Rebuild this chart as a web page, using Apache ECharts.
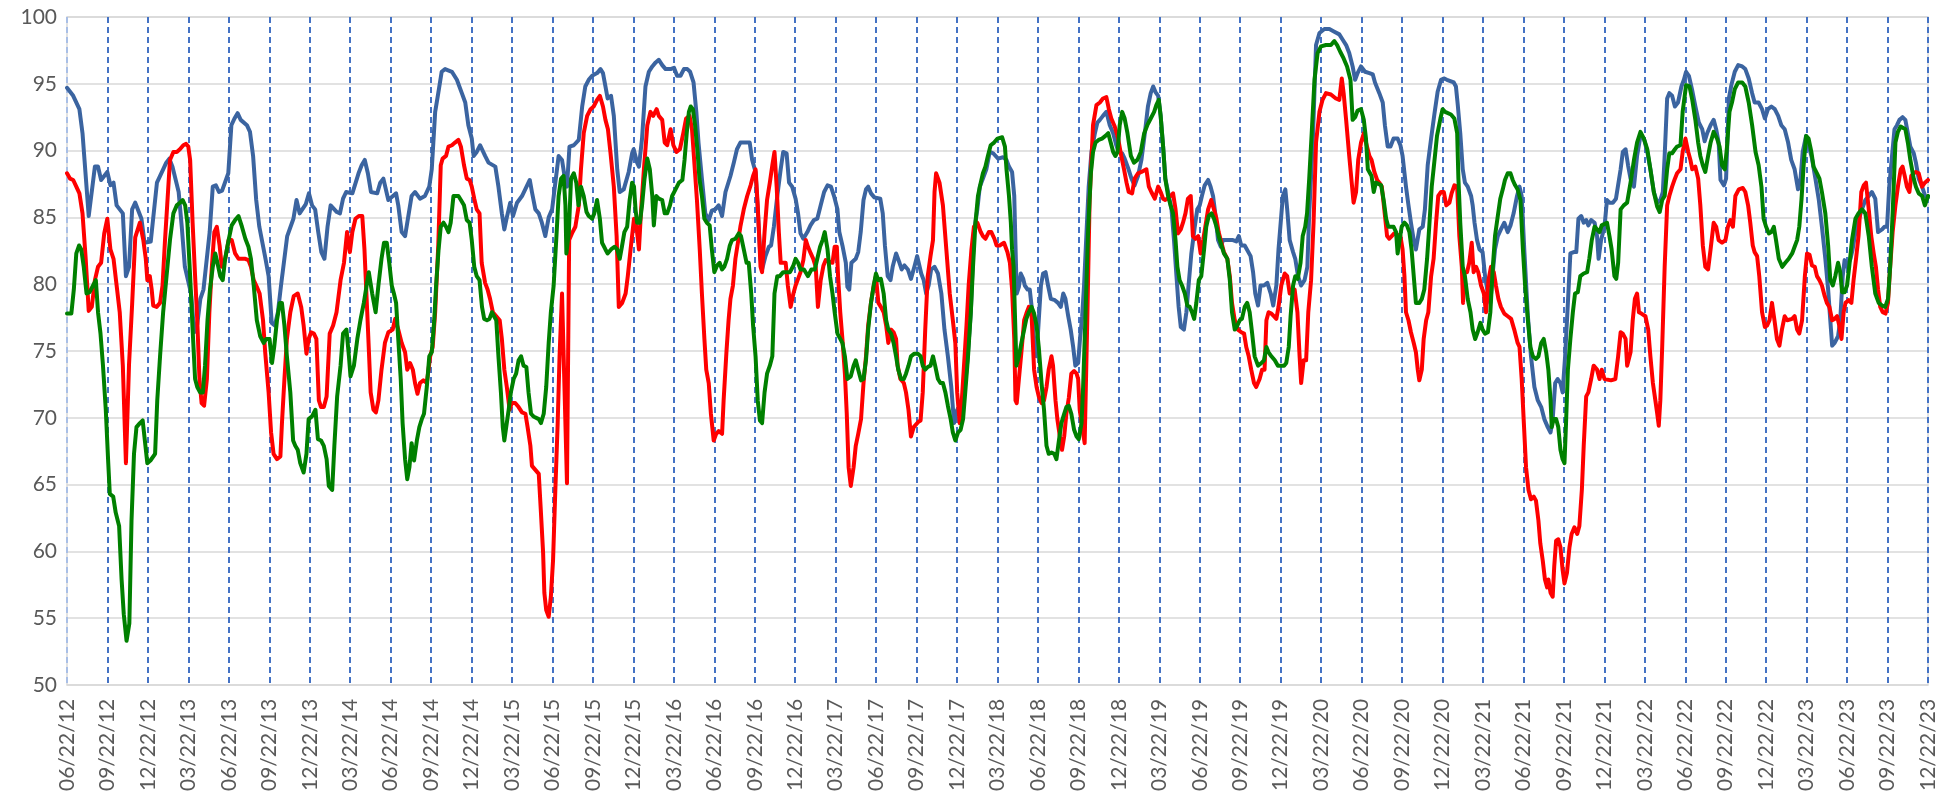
<!DOCTYPE html>
<html>
<head>
<meta charset="utf-8">
<script src="https://cdn.jsdelivr.net/npm/echarts@6/dist/echarts.min.js"></script>
<style>
  html, body { margin: 0; padding: 0; background: #ffffff; }
  #chart { width: 1949px; height: 794px; }
</style>
</head>
<body>
<div id="chart"></div>
<script>
// Weekly readings, x = weeks since 06/22/12 (600 weeks = 46 quarters)
const quarterLabels = [
  '06/22/12','09/22/12','12/22/12','03/22/13','06/22/13','09/22/13','12/22/13','03/22/14',
  '06/22/14','09/22/14','12/22/14','03/22/15','06/22/15','09/22/15','12/22/15','03/22/16',
  '06/22/16','09/22/16','12/22/16','03/22/17','06/22/17','09/22/17','12/22/17','03/22/18',
  '06/22/18','09/22/18','12/22/18','03/22/19','06/22/19','09/22/19','12/22/19','03/22/20',
  '06/22/20','09/22/20','12/22/20','03/22/21','06/22/21','09/22/21','12/22/21','03/22/22',
  '06/22/22','09/22/22','12/22/22','03/22/23','06/22/23','09/22/23','12/22/23'
];
const yTicks = { min: 50, max: 100, step: 5 };

const blueLine = [
  [0,94.7],[2,94.1],[4,93.1],[5,91.3],[7,85.1],[9,88.8],[10,88.8],[11,87.8],[13,88.4],[14,87.4],[15,87.6],[16,85.9],
  [18,85.3],[19,80.6],[20,81.3],[21,85.6],[22,86.1],[24,84.9],[25,83.1],[27,83.2],[29,87.6],[31,88.6],[32,89.1],[33,89.4],
  [34,88.8],[36,86.9],[37,84.3],[38,81.3],[40,79.3],[41,76.4],[42,77.0],[43,78.9],[44,79.6],[46,83.9],[47,87.3],[48,87.4],
  [49,86.9],[50,87.0],[52,88.3],[53,91.9],[54,92.4],[55,92.8],[56,92.3],[58,91.9],[59,91.4],[60,89.6],[61,86.3],[62,84.3],
  [64,81.9],[65,80.6],[66,77.1],[67,76.9],[68,77.9],[69,79.9],[71,83.6],[73,84.9],[74,86.3],[75,85.3],[77,86.0],[78,86.8],
  [79,85.9],[80,85.6],[81,83.9],[82,82.4],[83,81.9],[84,84.3],[85,85.9],[87,85.4],[88,85.3],[89,86.4],[90,86.9],[92,86.8],
  [94,88.3],[95,88.9],[96,89.3],[97,88.3],[98,86.9],[100,86.8],[101,87.6],
  [102.0,87.9],[103.6,86.3],[106.1,86.8],[106.8,85.9],[107.9,83.9],[109.0,83.6],[111.1,86.6],[112.2,86.9],[113.8,86.4],
  [115.4,86.6],[116.8,87.3],[117.6,88.6],[118.7,92.9],[119.7,94.3],[120.8,95.9],[121.9,96.1],[124.1,95.9],[125.7,95.3],
  [127.3,94.3],[128.4,93.6],[129.4,91.9],[130.5,90.9],[131.1,89.6],[132.1,89.9],[133.2,90.4],[134.8,89.6],[135.9,89.1],
  [138.1,88.8],[139.1,87.3],[140.2,85.3],[141.0,84.1],[141.8,85.0],[142.9,86.1],[143.8,85.1],[145.1,86.1],[146.7,86.6],
  [149.2,87.8],[149.9,86.9],[151.0,85.6],[152.1,85.3],[153.1,84.6],[154.2,83.6],[155.3,85.0],[156.4,85.6],[158.5,89.6],
  [159.6,89.3],[160.4,88.1],[161.2,87.3],[162.0,90.3],[163.4,90.4],[165.0,90.8],[166.1,93.3],[167.1,94.8],[168.2,95.3],
  [169.3,95.6],[170.9,95.8],[172.0,96.1],[172.8,95.8],[173.6,94.8],[174.3,93.9],[175.4,94.1],[176.3,92.6],[177.4,88.6],
  [178.2,86.9],[179.5,87.1],[181.1,88.4],[182.2,89.8],[182.7,90.1],[183.8,89.1],[184.4,88.8],[185.4,90.9],[186.5,94.8],
  [187.6,95.9],[188.7,96.3],[189.8,96.6],[190.8,96.8],[191.9,96.4],[193.0,96.1],[194.6,96.1],[195.7,96.2],[196.7,95.6],
  [197.8,95.6],[198.9,96.1],[200.0,96.1],
  [200.9,95.9],[202.0,95.1],[202.9,92.9],[203.6,90.6],[204.7,87.9],[205.8,85.3],[206.9,84.8],[207.9,85.5],[209.0,85.6],
  [210.1,85.9],[211.2,85.1],[212.3,86.9],[213.9,88.1],[215.0,89.1],[216.0,90.1],[217.1,90.6],[218.7,90.6],[220.1,90.6],
  [220.9,89.3],[222.0,88.4],[222.7,85.6],[223.6,81.9],[224.1,81.1],[225.2,82.1],[226.3,82.8],[227.0,82.9],[227.9,84.3],
  [229.0,86.6],[230.1,88.6],[230.9,89.9],[232.0,89.8],[232.8,87.6],[233.8,87.3],[234.9,86.4],[235.7,85.3],[236.5,83.8],
  [237.4,83.4],[238.7,83.9],[239.7,84.4],[240.8,84.8],[241.9,84.9],[243.0,85.9],[244.1,86.9],[245.2,87.4],[246.3,87.3],
  [247.3,86.6],[248.4,85.6],[249.0,83.9],[250.0,82.9],[251.1,81.6],[251.6,79.8],[252.2,79.6],[252.9,81.6],[254.3,81.9],
  [255.1,82.4],[255.9,83.9],[256.8,86.3],[257.6,87.1],[258.3,87.3],[259.2,86.8],[260.3,86.5],[262.2,86.4],[263.0,85.3],
  [263.7,82.9],[264.6,80.6],[265.5,80.3],[266.2,81.3],[267.3,82.3],[268.4,81.6],[269.1,81.1],[270.0,81.4],[271.1,81.1],
  [272.1,80.4],[273.2,81.3],[274.1,82.1],[274.8,81.4],[275.4,80.8],[276.2,80.3],[277.0,79.3],[277.8,79.9],[278.6,81.1],
  [279.7,81.3],[280.8,80.8],[281.9,79.3],[282.9,76.6],[284.0,74.6],[285.1,72.3],[286.0,69.6],[287.0,70.6],[288.1,70.6],
  [289.2,71.6],[290.3,74.3],[291.4,77.9],[292.4,83.9],[293.5,85.6],[294.3,87.3],[295.3,87.9],[296.4,88.6],[297.5,89.9],
  [298.6,89.8],
  [300.2,89.4],[301.8,89.5],[302.9,89.3],[303.7,88.8],[304.7,88.4],[305.4,86.6],[305.8,82.9],[306.2,79.3],[306.9,79.8],
  [307.5,80.8],[308.3,80.4],[308.8,79.9],[309.7,79.6],[310.4,79.6],[311.2,77.9],[311.8,75.6],[312.6,74.6],[313.3,77.3],
  [314.0,79.9],[314.7,80.8],[315.5,80.9],[316.3,79.9],[317.2,78.9],[318.5,78.8],[319.5,78.6],[320.4,78.3],[321.2,79.3],
  [321.9,78.9],[322.8,77.6],[323.6,76.6],[324.4,75.3],[325.1,73.9],[326.0,74.1],[326.6,75.9],[327.3,77.6],[327.9,79.9],
  [328.7,83.9],[329.4,87.3],[330.3,89.9],[331.4,91.3],[332.2,92.1],[333.0,92.3],[334.0,92.6],[335.1,92.9],[336.2,91.9],
  [337.3,91.3],[338.3,90.4],[339.1,89.9],[340.2,89.8],[341.0,89.4],[342.1,88.7],[343.2,87.9],[344.2,87.4],[345.3,88.1],
  [346.4,89.3],[347.5,91.3],[348.5,93.3],[349.4,94.3],[350.2,94.8],[350.9,94.4],[351.8,94.1],[352.6,92.6],[353.4,90.3],
  [354.1,87.9],[355.0,86.9],[356.1,85.6],[356.9,83.3],[357.7,80.6],[358.4,78.3],[359.1,76.8],[360.1,76.6],[360.9,77.9],
  [361.6,79.9],[362.5,82.3],[363.6,84.3],[364.4,85.6],[365.2,85.9],[365.9,86.6],[366.8,87.4],[367.9,87.8],[368.7,87.3],
  [369.5,86.6],[370.2,85.3],[371.1,83.3],[372.0,82.8],[372.7,83.3],[373.8,83.3],[375.9,83.3],[377.0,83.2],[377.8,83.6],
  [378.6,82.9],[379.7,82.9],[381.6,82.1],[382.4,80.9],[383.1,79.3],[384.0,78.4],[384.8,79.9],[385.9,79.9],[387.0,80.1],
  [388.1,79.3],[388.9,78.4],[389.9,79.9],[390.6,82.6],[391.3,84.6],[392.0,86.6],[392.8,87.1],[393.4,85.6],[394.2,83.3],
  [395.3,82.4],[396.0,81.9],[396.9,80.6],[397.9,79.9],[399.0,80.3],[399.9,81.3],
  [400.5,85.3],[401.6,90.3],[402.7,97.9],[403.8,98.8],[405.4,99.1],[407.0,99.1],[408.6,98.9],[410.2,98.7],[411.3,98.3],
  [412.4,97.9],[413.4,97.3],[414.5,96.3],[415.3,95.3],[416.1,95.8],[417.2,96.3],[418.5,95.9],[419.9,95.8],[421.0,95.7],
  [421.7,95.1],[423.1,94.3],[424.2,93.6],[424.9,91.9],[425.8,90.3],[426.7,90.3],[427.7,90.9],[429.0,90.9],[429.9,90.4],
  [430.6,89.6],[431.7,87.3],[432.5,85.9],[433.3,84.6],[434.2,83.3],[434.9,82.6],[436.0,84.1],[437.1,84.3],[437.8,85.6],
  [438.7,88.9],[439.8,90.9],[440.9,92.8],[441.9,94.4],[443.0,95.3],[443.9,95.4],[444.9,95.3],[446.0,95.2],[447.1,95.1],
  [447.8,94.8],[448.4,93.4],[449.2,91.3],[450.0,88.6],[450.7,87.6],[451.6,87.3],[452.7,86.6],[453.2,85.9],[453.8,84.6],
  [454.6,83.3],[455.4,82.6],[456.4,82.4],[457.2,80.6],[458.1,79.3],[458.9,78.6],[459.7,80.9],[460.4,82.6],[461.3,83.6],
  [462.3,84.1],[463.4,84.6],[464.5,83.9],[465.4,84.4],[466.4,85.3],[467.5,86.6],[468.3,87.3],[469.0,86.6],[469.9,82.3],
  [471.0,77.6],[472.0,74.6],[473.1,72.3],[474.2,71.3],[475.3,70.8],[476.3,69.9],[477.4,69.3],[478.3,68.9],[479.0,69.9],
  [479.8,72.6],[480.6,72.9],[481.5,72.6],[482.2,71.9],[483.0,74.6],[483.9,78.6],[484.7,82.3],[485.8,82.4],[486.6,82.4],
  [487.3,84.9],[488.2,85.1],[489.0,84.6],[489.8,84.8],[490.5,84.4],[491.4,84.8],[492.5,84.6],[493.3,83.6],[493.8,81.9],
  [494.6,83.3],[495.7,84.3],[496.5,86.3],[497.3,86.1],[498.4,86.1],[499.4,86.4],
  [500.9,88.6],[501.6,89.9],[502.5,90.1],[503.3,88.9],[504.1,87.9],[505.2,87.3],[506.2,89.6],[507.3,91.1],[508.4,90.9],
  [509.5,89.9],[510.5,88.6],[511.6,86.9],[512.7,86.1],[513.7,86.3],[514.5,86.9],[515.1,89.6],[515.9,93.9],[516.6,94.3],
  [517.5,94.1],[518.4,93.3],[519.4,93.6],[520.5,94.8],[521.3,95.3],[522.0,95.9],[522.9,95.6],[523.9,94.6],[525.0,93.3],
  [526.1,92.1],[527.2,91.6],[528.0,90.7],[528.8,91.3],[529.9,91.9],[530.9,92.3],[531.7,91.6],[532.5,90.6],[533.1,87.8],
  [534.2,87.4],[534.9,87.9],[535.8,93.9],[536.6,94.9],[537.7,95.9],[538.8,96.4],[540.1,96.3],[541.1,96.1],[542.2,95.4],
  [543.3,94.3],[544.1,93.6],[545.4,93.6],[546.5,93.1],[547.4,92.4],[548.4,93.1],[549.5,93.3],[550.6,93.1],[551.7,92.6],
  [552.7,91.9],[553.8,91.6],[554.9,90.6],[555.9,89.3],[557.0,88.6],[558.1,87.1],[558.9,87.9],[559.6,89.9],[560.7,91.1],
  [561.5,90.4],[562.6,89.4],[563.7,87.9],[564.8,86.3],[565.8,84.3],[566.9,81.9],[567.8,79.6],[568.5,77.3],[569.1,75.4],
  [569.9,75.6],[571.0,76.1],[571.7,77.3],[572.5,80.6],[573.1,81.8],[573.9,81.3],[575.0,81.9],[575.7,82.6],[576.6,83.9],
  [577.6,84.8],[578.7,85.6],[579.8,86.3],[580.9,86.6],[581.9,86.9],[583.0,86.4],[583.9,83.9],[585.2,84.1],[586.0,84.3],
  [586.8,84.3],[587.5,87.3],[588.4,89.6],[589.2,91.6],[590.0,91.9],[590.8,92.3],[591.8,92.5],[592.7,92.3],[593.5,91.3],
  [594.3,90.3],[595.4,89.8],[596.1,89.1],[597.0,87.9],[598.1,87.3],[599.1,86.6],[600,86.5]
];

const redLine = [
  [0,88.3],[1,87.9],[2,87.8],[3,87.3],[4,86.8],[5,85.3],[6,82.0],[7,78.0],[8,78.3],[9,80.3],[10,81.3],[11,81.6],[12,83.8],
  [13,84.9],[14,82.6],[15,81.9],[16,79.9],[17,77.9],[18,73.9],[19,66.6],[20,74.0],[21,78.5],[22,83.5],[23.5,84.6],
  [24.6,83.3],[25.4,81.9],[25.9,80.3],[26.7,80.6],[27.3,79.6],[27.8,78.4],[28.9,78.3],[30.0,78.6],[30.8,79.9],[31.6,83.3],
  [32.3,85.9],[33.2,89.3],[34.3,89.9],[35.4,89.9],[36.4,90.1],[37.5,90.4],[38.4,90.5],[39.1,90.3],[39.7,89.3],[40.5,84.6],
  [41.3,80.6],[42.0,77.3],[42.7,72.9],[43.4,71.1],[44.2,70.9],[45.1,72.9],[45.9,77.9],[46.7,81.3],[47.5,83.9],[48.3,84.3],
  [49.2,82.9],[49.9,81.3],[51.0,81.9],[52.1,83.3],[53.1,83.3],[54.2,82.3],[55.3,81.9],[57.5,81.9],[58.5,81.8],[59.3,81.3],
  [60.2,80.3],[61.2,79.8],[62.1,79.3],[63.2,77.3],[63.9,74.9],[65.0,71.9],[65.8,68.9],[66.6,67.3],[67.7,66.9],[68.8,67.1],
  [69.3,69.6],[70.1,72.9],[70.9,75.9],[72.0,77.9],[73.1,79.1],[74.4,79.3],[75.5,78.3],[76.3,76.9],[77.2,74.8],[77.9,75.9],
  [78.7,76.4],[79.6,76.3],[80.4,75.9],[81.2,71.3],[81.9,70.8],[82.8,70.8],[83.7,71.6],[84.7,76.3],[85.8,76.9],[86.9,77.9],
  [88.2,80.3],[89.3,81.6],[90.3,83.9],[91.2,82.4],[92.0,83.9],[93.0,84.9],[94.1,85.1],[95.2,85.1],[95.9,82.6],[96.8,77.9],
  [97.9,71.9],[98.8,70.6],[99.6,70.4],[100.4,71.3],[101.4,73.6],[102.5,75.6],[103.6,76.4],[105.0,76.6],[105.8,77.4],
  [106.8,76.6],[107.9,75.6],[109.0,74.9],[109.7,73.6],[110.6,74.1],[111.5,73.6],[112.2,72.6],[113.0,71.8],[113.8,72.6],
  [114.9,72.8],[116.0,72.6],[117.1,74.6],[117.9,75.3],[118.7,77.9],[119.7,82.9],[120.5,88.9],[121.1,89.4],[122.2,89.6],
  [123.0,90.3],[124.1,90.4],[125.1,90.6],[126.2,90.8],[127.0,90.3],[128.0,88.9],[128.9,87.9],[129.8,87.8],[130.5,87.3],
  [131.3,86.4],[132.1,85.6],[133.0,85.3],[133.7,81.6],[134.8,80.1],[135.6,79.6],[136.4,78.9],[137.3,77.9],[138.4,77.6],
  [139.5,77.3],[140.2,75.9],[141.0,73.6],[141.8,72.3],[142.7,70.6],[143.4,71.1],[144.5,71.1],[145.6,70.8],[146.7,70.4],
  [147.8,70.3],[148.5,69.3],[149.4,67.9],[149.9,66.4],[151.0,66.1],[152.1,65.8],[152.8,62.9],[153.5,59.9],[153.9,56.9],
  [154.5,55.6],[155.3,55.1],[156.0,56.6],[156.7,59.3],[157.4,64.3],[158.2,69.6],[158.8,74.6],[159.6,79.3],[161.2,65.1],
  [161.9,83.3],[162.8,83.8],[163.9,84.3],[165.0,85.9],[165.7,88.6],[166.6,91.3],[167.7,92.6],[168.8,93.1],[169.8,93.3],
  [170.9,93.8],[171.8,94.1],[172.8,93.3],[173.6,92.3],[174.4,91.6],[175.2,89.9],[176.3,87.3],[177.2,83.6],[177.9,78.3],
  [179.0,78.6],[180.1,79.3],[180.8,80.6],[181.7,82.6],[182.8,84.9],[183.6,84.3],[184.4,82.6],[185.1,85.6],[186.0,88.6],
  [187.1,91.9],[188.1,92.9],[189.0,92.6],[190.1,93.1],[190.8,92.6],[191.9,92.3],[192.7,90.6],[193.5,90.4],[194.6,91.6],
  [195.5,90.4],[196.5,89.9],[197.6,90.1],[198.7,91.3],[199.6,92.4],[200.7,92.6],[201.5,91.6],[202.2,89.3],[203.1,86.3],
  [204.0,82.6],[204.7,79.3],[205.5,75.9],[206.1,73.6],[206.9,72.6],[207.6,70.3],[208.5,68.3],[209.3,68.8],[210.1,69.0],
  [211.2,68.8],[211.7,71.3],[212.6,74.9],[213.3,77.3],[213.9,78.9],[214.7,79.9],[215.5,81.9],[216.3,83.1],[217.1,84.3],
  [218.2,85.6],[219.3,86.6],[220.4,87.4],[221.2,88.1],[222.0,88.6],[222.7,85.9],[223.6,81.3],[224.1,80.9],[224.9,83.9],
  [225.7,86.3],[226.6,87.6],[227.4,88.9],[228.1,89.9],[228.8,87.3],[229.5,83.9],[230.1,81.6],[231.7,81.6],[232.4,79.9],
  [233.3,78.3],[234.2,79.3],[234.9,79.9],[235.7,80.4],[236.5,80.9],[237.4,81.8],[238.2,83.3],[238.9,82.8],[239.8,82.3],
  [240.6,81.9],[241.4,81.3],[242.1,78.3],[243.0,80.3],[243.9,81.4],[244.6,81.8],[246.8,81.6],[247.5,82.8],[248.2,82.8],
  [248.6,80.6],[249.3,77.9],[250.0,75.9],[250.8,73.3],[251.4,70.3],[252.0,66.3],[252.7,64.9],[253.6,66.3],[254.3,67.9],
  [255.1,68.8],[256.0,69.9],[256.8,72.6],[257.6,74.6],[258.3,76.9],[259.2,78.6],[260.1,79.9],[260.8,80.6],[261.6,78.6],
  [262.4,78.3],[263.3,77.9],[264.1,76.9],[264.8,75.6],[265.7,76.6],[266.5,76.4],[267.3,75.9],[267.8,73.9],[268.7,72.9],
  [269.8,72.6],[270.5,71.9],[271.3,70.6],[272.1,68.6],[273.0,69.3],[274.5,69.7],[275.2,69.8],[275.9,71.9],[276.7,76.6],
  [277.5,80.6],[278.4,82.1],[279.2,83.3],[279.7,86.9],[280.2,88.3],[281.3,87.6],[282.4,85.9],[283.5,82.6],[284.6,79.3],
  [285.6,77.3],[286.4,75.6],[287.0,71.9],[287.8,69.6],[288.3,70.6],[289.2,73.9],[290.0,76.9],[290.7,79.9],[291.6,82.6],
  [292.4,84.3],[293.5,84.6],[294.6,83.9],[295.3,83.6],[296.1,83.4],[297.2,83.9],[298.0,83.9],[299.0,83.4],[299.7,82.9],
  [300.7,82.9],[302.1,83.1],[303.2,82.4],[304.0,81.6],[304.7,79.6],[305.4,75.9],[305.8,71.3],[306.2,71.1],[306.9,72.9],
  [307.7,74.9],[308.6,77.3],[309.3,77.8],[310.1,78.3],[311.0,77.6],[311.8,73.6],[312.6,72.3],[313.3,71.6],[314.2,71.1],
  [315.0,71.3],[315.8,72.3],[316.5,73.6],[317.4,74.6],[317.9,73.9],[318.7,71.3],[319.3,69.9],[320.1,68.6],[320.8,67.6],
  [321.5,68.6],[322.2,70.3],[323.0,71.5],[323.8,73.3],[324.7,73.5],[325.5,73.3],[326.0,72.9],[326.5,70.6],[327.3,69.3],
  [328.1,68.1],[329.0,77.9],[329.7,86.3],[330.8,91.9],[331.9,93.4],[333.0,93.6],[334.0,93.9],[335.1,94.0],[335.9,93.1],
  [336.7,92.4],[337.8,91.8],[338.9,90.9],[339.9,89.6],[340.8,88.6],[341.6,87.6],[342.3,86.9],[343.4,86.8],[344.2,87.9],
  [345.3,88.3],[346.4,88.4],[348.0,88.6],[348.8,87.3],[349.6,86.9],[350.7,86.4],[351.8,87.3],[352.6,86.9],[353.4,86.4],
  [354.1,86.3],[355.8,86.6],[356.6,86.8],[357.4,85.6],[358.2,83.8],[359.1,84.1],[359.8,84.6],[360.6,85.3],[361.4,86.4],
  [362.3,86.6],[363.0,83.6],[363.8,83.4],[364.7,83.6],[365.5,82.3],[366.3,83.3],[367.0,84.3],[367.9,85.6],[368.9,86.3],
  [369.8,85.6],[370.6,84.9],[371.3,83.9],[372.2,83.1],[373.0,82.4],[374.1,81.9],[374.9,80.6],[375.6,78.6],[376.5,77.3],
  [377.5,76.6],[378.6,76.4],[379.5,76.3],[380.2,75.3],[381.0,74.6],[381.8,73.6],[382.7,72.6],[383.4,72.3],[384.5,72.9],
  [385.3,73.6],[386.1,73.6],[386.7,77.3],[387.4,77.9],[388.3,77.8],[389.1,77.6],[389.9,77.4],[390.6,78.3],[391.5,79.9],
  [392.6,80.8],[393.4,80.6],[394.2,79.3],[394.9,79.6],[395.8,79.6],[396.7,77.9],[397.4,74.6],[397.9,72.6],[398.7,74.3],
  [399.5,74.3],[400.2,77.9],[401.1,80.3],[401.9,84.6],[402.7,90.6],[403.8,92.9],[404.8,93.8],[405.9,94.3],[407.5,94.2],
  [409.1,93.9],[410.2,93.8],[411.0,95.4],[411.6,94.3],[412.4,92.3],[413.4,89.6],[414.2,87.6],[414.8,86.1],[415.6,86.9],
  [416.3,89.3],[417.2,90.6],[418.1,91.3],[418.8,90.6],[419.9,89.6],[420.6,89.3],[421.5,88.4],[422.4,87.8],[423.1,87.6],
  [423.9,87.3],[424.7,85.6],[425.6,83.6],[426.3,83.4],[427.1,83.6],[427.9,83.8],[429.9,83.6],[430.6,82.6],[431.2,80.6],
  [431.7,77.9],[432.5,77.3],[433.3,76.4],[434.2,75.6],[434.9,74.9],[435.5,73.6],[436.0,72.8],[436.8,73.6],[437.4,75.9],
  [438.2,77.3],[438.9,77.9],[439.8,80.6],[440.6,81.9],[441.4,84.6],[442.1,86.6],[443.0,86.9],[443.9,86.9],[444.7,85.9],
  [445.7,86.1],[446.4,86.8],[447.3,87.4],[448.2,87.3],[448.9,83.6],[449.7,81.3],[450.1,78.6],[450.5,80.9],[451.4,80.9],
  [452.1,81.6],[452.9,83.1],[453.5,80.9],[454.3,81.3],[455.0,80.9],[455.9,79.9],[456.8,79.3],[457.5,77.9],[458.3,80.3],
  [459.1,81.3],[460.0,80.9],[460.7,79.9],[461.5,78.9],[462.3,78.3],[463.4,77.8],[464.5,77.6],[465.6,77.4],[466.6,76.6],
  [467.7,75.6],[468.3,75.3],[469.0,72.9],[469.7,69.6],[470.4,66.3],[471.2,64.6],[472.0,63.9],[472.9,64.1],[473.6,63.8],
  [474.4,62.3],[475.0,60.6],[475.8,59.3],[476.5,57.9],[477.2,57.3],[477.6,57.9],[478.3,56.9],[479.0,56.6],[479.5,58.9],
  [480.1,60.8],[480.8,60.9],[481.5,60.3],[482.2,58.6],[482.8,57.6],[483.6,58.4],[484.4,60.3],[485.1,61.3],[486.0,61.8],
  [486.9,61.3],[487.6,61.9],[488.4,64.6],[489.0,67.9],[489.8,71.6],[490.5,71.9],[491.4,72.9],[492.2,73.9],[493.3,73.6],
  [494.1,72.9],[494.8,73.6],[495.7,72.9],[497.8,72.8],[499.2,72.9],[500.1,74.6],[500.9,76.4],[501.6,76.3],[502.5,75.9],
  [503.0,73.9],[503.5,73.8],[504.1,74.9],[504.8,77.3],[505.5,78.9],[506.2,79.3],[506.8,77.9],[507.6,77.8],[508.9,77.6],
  [509.8,76.6],[510.5,74.6],[511.3,72.6],[512.1,71.3],[512.7,70.3],[513.2,69.4],[513.7,71.3],[514.3,75.3],[515.1,81.3],
  [515.9,85.9],[516.6,86.6],[517.5,87.3],[518.4,87.9],[519.1,88.3],[520.2,88.6],[520.9,89.9],[521.8,90.9],[522.7,89.9],
  [523.4,89.3],[524.0,88.6],[525.0,88.8],[525.9,87.9],[526.6,85.9],[527.4,82.9],[528.2,81.3],[529.1,81.1],[529.9,82.6],
  [530.9,84.6],[531.7,84.3],[532.5,83.3],[533.6,83.1],[534.7,83.3],[535.5,84.3],[536.3,84.8],[537.1,84.3],[537.9,86.6],
  [539.0,87.1],[540.3,87.2],[541.1,86.9],[542.0,85.9],[542.7,84.6],[543.5,82.9],[544.1,82.4],[544.9,82.1],[545.6,80.6],
  [546.5,77.9],[547.4,76.8],[548.1,76.9],[548.9,77.3],[549.7,78.6],[550.5,77.3],[551.3,75.9],[552.1,75.4],[552.9,76.6],
  [553.8,77.6],[554.6,77.3],[556.2,77.4],[557.0,77.6],[557.8,76.6],[558.5,76.3],[559.4,77.3],[560.3,80.6],[561.0,82.3],
  [561.8,82.2],[562.6,81.4],[563.5,81.3],[564.2,80.6],[565.0,80.3],[565.8,79.9],[566.7,79.1],[567.4,78.6],[568.2,78.3],
  [569.1,77.3],[569.9,77.4],[570.7,77.6],[571.4,76.9],[572.1,75.9],[572.8,77.9],[573.4,78.6],[574.4,78.8],[575.3,78.6],
  [576.0,80.3],[576.8,81.9],[577.6,83.6],[578.5,86.9],[579.3,87.4],[580.0,87.6],[580.9,85.6],[581.7,83.6],[582.5,82.3],
  [583.2,81.3],[583.9,79.6],[584.6,78.3],[585.4,77.9],[586.3,77.8],[587.1,78.6],[587.8,81.3],[588.6,83.9],[589.5,85.9],
  [590.3,87.3],[591.2,88.6],[591.8,88.8],[592.5,88.1],[593.2,87.3],[594.0,86.9],[594.6,88.1],[595.4,88.3],[596.1,88.4],
  [597.0,88.3],[598.1,87.3],[599.0,87.6],[600,87.8]
];

const greenLine = [
  [0,77.8],[1.4,77.8],[2.2,79.6],[3.0,82.3],[3.9,82.9],[4.6,82.6],[5.4,81.3],[6.3,79.3],[7.3,79.4],[8.4,79.9],[9.3,80.3],
  [10.0,77.9],[10.8,76.3],[11.6,73.9],[12.5,70.6],[13.3,66.6],[13.8,64.3],[14.9,64.1],[15.7,62.9],[16.8,61.9],[17.6,57.9],
  [18.3,55.3],[19.2,53.3],[20.1,54.6],[20.8,62.3],[21.6,67.3],[22.4,69.3],[23.5,69.6],[24.4,69.8],[25.1,68.3],[25.9,66.6],
  [26.9,66.8],[28.4,67.3],[29.1,71.3],[30.0,74.6],[31.0,77.9],[32.1,80.6],[33.2,83.3],[34.3,85.3],[35.4,85.9],[36.4,86.1],
  [37.3,86.3],[38.1,85.9],[38.8,84.6],[39.7,80.6],[40.5,76.6],[41.3,72.9],[42.0,72.3],[42.9,71.9],[43.8,71.9],[44.5,73.9],
  [45.3,77.3],[46.1,79.6],[47.0,81.3],[47.8,82.3],[48.5,81.6],[49.4,80.6],[50.2,80.3],[51.0,81.9],[52.1,83.3],[53.1,84.4],
  [54.2,84.8],[55.3,85.1],[56.4,84.3],[57.5,83.4],[58.5,82.8],[59.3,81.9],[60.2,79.9],[61.2,77.3],[62.3,76.1],[63.4,75.6],
  [64.2,75.9],[65.3,75.9],[66.1,74.1],[66.8,75.3],[67.7,77.3],[68.6,78.6],[69.3,78.6],[70.1,76.9],[70.9,74.6],[72.0,71.9],
  [72.9,68.3],[73.6,67.9],[74.4,67.6],[75.2,66.6],[76.3,65.9],[77.2,67.3],[77.9,69.9],[79.0,70.1],[80.1,70.6],[80.9,68.4],
  [81.9,68.3],[82.8,67.9],[83.7,66.9],[84.4,64.9],[85.5,64.6],[86.2,67.9],[87.1,71.6],[88.2,73.9],[89.0,76.3],[90.1,76.6],
  [90.9,74.6],[91.4,73.1],[92.5,73.9],[93.6,75.9],[94.6,77.3],[95.7,78.6],[96.6,79.9],[97.3,80.9],[98.4,79.3],[99.5,77.9],
  [100.4,79.9],[101.4,81.9],[102.2,83.1],[103.1,83.1],[103.9,81.6],[104.7,79.9],[105.4,79.3],[106.1,78.6],[106.8,75.9],
  [107.6,72.9],[108.2,69.6],[109.0,66.9],[109.7,65.4],[110.4,66.3],[111.1,68.1],[111.9,66.8],[112.8,68.3],[113.6,69.3],
  [114.4,69.9],[115.1,70.3],[116.0,72.3],[116.8,74.6],[117.6,74.9],[118.4,77.3],[119.0,79.9],[119.8,82.6],[120.5,84.3],
  [121.4,84.6],[122.2,84.3],[123.0,83.9],[123.7,84.6],[124.6,86.6],[126.2,86.6],[127.0,86.3],[128.0,85.9],[128.9,84.8],
  [129.8,84.6],[130.5,83.3],[131.3,81.3],[132.1,80.6],[133.0,80.3],[133.8,78.3],[134.5,77.4],[135.4,77.3],[136.2,77.4],
  [137.0,77.9],[137.7,77.6],[138.4,77.3],[139.1,74.6],[139.9,71.9],[140.5,69.3],[141.0,68.3],[141.6,69.3],[142.4,70.6],
  [143.1,71.9],[144.0,72.9],[144.8,73.3],[145.6,74.3],[146.4,74.6],[147.2,73.9],[148.1,73.8],[148.8,71.9],[149.6,70.3],
  [150.4,70.1],[152.1,69.9],[152.8,69.6],[153.7,70.3],[154.5,72.3],[155.3,75.6],[156.0,77.9],[156.9,79.9],[157.8,83.6],
  [158.5,86.6],[159.3,87.9],[160.1,88.1],[160.7,85.9],[161.0,82.3],[161.8,83.9],[162.5,87.9],[163.4,88.3],[164.2,87.6],
  [164.9,85.9],[165.7,87.3],[166.6,86.6],[167.5,85.4],[168.2,85.1],[169.3,84.9],[170.0,85.3],[170.9,86.3],[171.8,84.9],
  [172.5,83.1],[173.6,82.6],[174.3,82.3],[175.4,82.6],[176.5,82.8],[177.4,82.6],[178.2,81.9],[178.9,82.8],[179.7,83.9],
  [180.6,84.3],[181.4,86.3],[182.2,87.6],[182.8,87.3],[183.3,85.6],[183.8,84.6],[184.7,84.6],[185.4,85.9],[186.2,87.9],
  [187.1,89.4],[187.9,88.6],[188.7,86.6],[189.2,84.4],[190.0,86.6],[190.8,86.4],[191.9,86.3],[192.7,85.3],[193.5,85.3],
  [194.4,85.9],[195.1,86.6],[196.2,87.1],[197.3,87.6],[198.4,87.8],[199.1,89.3],[199.8,91.3],[200.5,92.9],[201.1,93.3],
  [201.8,93.1],[202.5,91.9],[203.3,89.9],[203.9,87.9],[204.7,86.6],[205.5,84.9],[206.3,84.6],[207.2,84.4],[207.9,82.6],
  [208.7,80.9],[209.6,81.4],[210.4,81.6],[211.2,81.1],[211.9,81.3],[212.8,81.9],[213.7,82.9],[214.4,83.3],[215.5,83.4],
  [216.6,83.8],[217.3,83.6],[218.2,82.6],[219.1,81.6],[219.8,81.6],[220.6,79.3],[221.2,76.9],[222.0,74.6],[222.7,71.3],
  [223.4,69.8],[224.1,69.6],[224.9,71.9],[225.7,73.3],[226.6,73.9],[227.4,74.6],[228.1,79.3],[229.0,80.6],[229.8,80.6],
  [230.9,80.9],[232.0,80.9],[233.1,80.9],[234.2,81.4],[234.9,81.9],[235.7,81.6],[236.5,81.1],[237.6,81.1],[238.9,80.6],
  [240.0,81.1],[241.1,81.1],[241.9,81.9],[242.8,82.8],[243.6,83.3],[244.3,83.9],[245.2,82.6],[246.0,80.6],[246.8,79.3],
  [247.5,77.9],[248.4,76.3],[249.3,75.9],[250.0,75.6],[250.8,74.6],[251.6,72.9],[252.7,73.1],[253.6,73.9],[254.3,74.3],
  [255.1,73.6],[256.0,72.8],[256.8,72.9],[257.6,74.3],[258.3,76.6],[259.2,78.6],[260.1,79.9],[260.8,80.8],[261.6,80.3],
  [262.4,80.4],[263.3,79.3],[264.1,77.3],[264.8,76.6],[265.7,76.3],[266.5,75.6],[267.3,74.6],[268.0,73.6],[268.9,72.9],
  [269.8,72.9],[270.5,73.3],[271.3,73.9],[272.1,74.6],[273.2,74.8],[274.3,74.8],[275.2,74.6],[275.9,73.9],[276.7,73.6],
  [277.5,73.8],[278.4,73.9],[279.2,74.6],[279.9,73.9],[280.8,72.9],[281.6,72.6],[282.4,72.6],[283.2,71.9],[284.0,70.9],
  [284.9,69.9],[285.6,68.9],[286.4,68.3],[287.3,68.9],[288.1,69.1],[288.9,69.9],[289.6,71.9],[290.5,74.6],[291.4,77.9],
  [292.1,81.3],[292.9,84.6],[293.7,86.6],[294.6,87.6],[295.3,88.3],[296.1,88.8],[296.9,89.6],[297.8,90.4],[298.9,90.6],
  [300.0,90.9],[301.5,91.0],[302.4,90.3],[302.9,88.6],[303.7,86.6],[304.3,84.6],[304.7,82.6],[305.2,81.3],[305.6,77.9],
  [306.1,73.9],[306.9,74.6],[307.7,75.6],[308.6,76.6],[309.3,77.4],[310.1,77.9],[311.0,78.3],[311.8,77.8],[312.6,76.9],
  [313.3,75.3],[314.2,72.6],[315.0,70.6],[315.8,67.9],[316.5,67.3],[317.4,67.4],[318.3,67.3],[319.0,66.9],[319.8,68.3],
  [320.6,69.6],[321.5,70.3],[322.2,70.8],[323.0,70.9],[323.8,70.3],[324.7,69.1],[325.5,68.6],[326.2,68.4],[327.1,69.6],
  [327.6,72.3],[328.4,77.9],[329.2,83.9],[330.1,88.3],[330.8,89.9],[331.6,90.6],[332.6,90.8],[333.7,90.9],[334.8,91.1],
  [335.7,91.3],[336.5,90.6],[337.3,89.9],[338.0,89.6],[338.7,89.9],[339.4,91.9],[340.2,92.9],[341.0,92.4],[341.9,91.3],
  [343.0,89.6],[344.0,89.1],[345.1,89.3],[346.2,89.9],[347.3,91.3],[348.3,91.9],[349.4,92.4],[350.5,92.9],[351.2,93.4],
  [352.0,93.8],[352.6,92.6],[353.4,90.3],[354.1,87.9],[355.0,86.6],[355.8,85.9],[356.6,85.3],[357.4,83.3],[358.0,81.3],
  [358.7,80.3],[359.5,79.9],[360.4,79.3],[361.2,78.4],[362.0,78.3],[362.7,77.9],[363.4,77.4],[364.1,78.6],[364.9,80.3],
  [365.7,80.6],[366.6,82.6],[367.3,84.3],[368.1,85.1],[369.0,85.3],[369.8,84.9],[370.6,84.3],[371.3,83.6],[372.2,82.9],
  [373.0,82.3],[374.1,81.9],[374.9,80.3],[375.6,77.9],[376.5,76.6],[377.3,76.9],[378.1,77.3],[378.8,77.4],[379.7,78.3],
  [380.5,78.6],[381.3,77.9],[382.1,76.3],[382.9,74.6],[384.0,73.9],[385.1,74.1],[385.9,74.3],[386.7,75.3],[387.4,74.9],
  [388.3,74.6],[389.4,74.3],[390.4,73.9],[392.4,73.9],[393.1,74.1],[393.9,75.3],[394.5,77.6],[395.3,79.9],[396.0,80.6],
  [396.8,80.4],[397.7,81.6],[398.4,83.6],[399.2,84.3],[399.8,85.3],[400.5,87.9],[401.3,91.3],[402.2,95.3],[403.2,97.3],
  [404.3,97.8],[405.9,97.9],[407.5,97.9],[408.6,98.2],[409.5,97.9],[410.5,97.4],[411.6,96.9],[412.7,96.3],[413.8,95.3],
  [414.5,92.3],[415.3,92.5],[416.1,93.0],[417.2,93.1],[418.1,92.3],[418.8,90.9],[419.4,88.6],[420.6,88.1],[421.3,86.9],
  [422.0,87.6],[423.7,87.4],[424.5,86.3],[425.3,84.9],[426.0,84.3],[427.7,84.3],[428.5,83.9],[429.0,82.3],[429.6,82.4],
  [430.3,84.3],[431.2,84.6],[432.0,84.4],[432.8,83.9],[433.5,82.6],[434.2,80.6],[434.9,78.6],[436.0,78.6],[436.8,78.9],
  [437.6,79.6],[438.5,81.9],[439.2,84.3],[440.0,87.3],[440.9,89.3],[441.7,91.1],[442.8,92.4],[443.5,93.1],[444.3,92.9],
  [446.2,92.7],[447.3,92.4],[448.2,91.3],[448.6,87.9],[449.2,84.6],[450.0,81.3],[450.7,80.6],[451.6,78.9],[452.5,77.9],
  [453.2,76.6],[454.0,75.9],[454.8,76.4],[455.7,77.1],[456.4,76.6],[457.2,76.3],[458.1,76.4],[458.9,77.9],[459.7,81.3],
  [460.4,83.6],[461.3,85.1],[462.1,86.4],[462.9,87.1],[463.6,87.8],[464.5,88.3],[465.4,88.3],[466.1,87.8],[466.9,87.4],
  [467.7,87.1],[468.6,86.3],[469.4,82.6],[470.1,79.9],[471.0,77.3],[471.8,75.3],[472.6,74.6],[473.6,74.4],[474.4,74.6],
  [475.3,75.6],[476.1,75.9],[476.9,74.9],[477.6,73.6],[478.3,71.3],[478.7,69.3],[479.3,69.9],[480.1,69.9],[480.8,69.3],
  [481.5,67.6],[482.2,66.9],[482.8,66.6],[483.3,69.6],[483.9,73.6],[484.7,75.9],[485.5,77.9],[486.2,79.3],[487.1,79.4],
  [487.9,80.6],[489.0,80.8],[490.1,80.9],[490.8,81.9],[491.6,83.3],[492.5,84.3],[493.3,84.1],[494.1,83.9],[494.8,84.4],
  [496.5,84.6],[497.3,83.6],[498.0,82.6],[498.9,80.6],[499.5,80.4],[500.1,81.6],[500.9,85.6],[501.9,85.9],[503.0,86.1],
  [504.1,87.6],[505.2,89.3],[506.2,90.6],[507.3,91.4],[508.4,90.9],[509.5,90.1],[510.5,88.6],[511.6,86.9],[512.7,85.8],
  [513.5,85.4],[514.3,86.3],[515.1,86.6],[515.9,88.6],[516.6,89.8],[517.5,89.8],[518.4,90.1],[519.1,90.3],[520.2,90.4],
  [520.9,92.9],[522.0,94.9],[523.1,94.8],[524.0,93.8],[525.0,92.3],[525.9,90.6],[526.6,89.6],[527.4,88.9],[528.2,88.4],
  [529.1,89.6],[529.9,90.6],[530.9,91.4],[532.0,90.9],[532.8,90.3],[533.6,88.9],[534.5,88.6],[535.2,90.3],[536.0,92.9],
  [536.8,93.6],[537.7,94.6],[538.8,95.1],[540.1,95.1],[541.1,94.8],[542.2,93.6],[543.3,91.9],[544.4,89.9],[545.4,88.9],
  [546.3,87.3],[547.0,84.9],[547.8,84.3],[548.7,83.8],[549.5,83.9],[550.3,84.3],[551.0,83.3],[551.9,81.9],[553.0,81.3],
  [554.0,81.6],[555.1,81.9],[556.2,82.3],[557.0,82.8],[557.8,83.3],[558.5,84.3],[559.2,86.3],[559.9,88.9],[560.7,91.1],
  [561.5,90.9],[562.4,89.9],[563.1,88.8],[564.2,88.3],[565.0,87.9],[565.8,86.9],[566.9,85.3],[567.8,82.9],[568.5,80.3],
  [569.3,79.9],[570.1,80.6],[571.0,81.6],[571.7,80.9],[572.3,79.4],[573.1,79.4],[573.9,79.9],[574.6,81.3],[575.5,83.3],
  [576.6,84.9],[577.6,85.3],[578.7,85.6],[579.8,85.3],[580.9,83.6],[581.9,81.3],[583.0,79.3],[584.1,78.6],[585.2,78.4],
  [586.2,78.3],[587.1,78.9],[587.8,81.3],[588.6,85.3],[589.5,90.6],[590.3,91.4],[591.2,91.8],[591.8,91.9],[592.7,91.6],
  [593.5,90.6],[594.3,89.3],[595.4,87.9],[596.1,87.3],[597.0,86.8],[598.1,86.6],[599.0,85.9],[600,86.6]
];

const WEEKS_PER_QUARTER = 600 / (quarterLabels.length - 1);
const toQuarterAxis = rows => rows.map(([w, v]) => [w / WEEKS_PER_QUARTER, v]);

// first quarter line sits on the plot edge and is drawn paler than the rest
const quarterLineColors = quarterLabels.map((_, i) => (i === 0 ? '#a9bfe6' : '#4472c4'));

const chart = echarts.init(document.getElementById('chart'), null, { renderer: 'canvas' });

const lineSeries = (name, rows, color) => ({
  name,
  type: 'line',
  data: toQuarterAxis(rows),
  showSymbol: false,
  symbol: 'none',
  smooth: false,
  clip: true,
  lineStyle: { color, width: 4, join: 'round', cap: 'round' },
  emphasis: { disabled: true }
});

chart.setOption({
  animation: false,
  backgroundColor: '#ffffff',
  textStyle: { fontFamily: 'Lato, "Open Sans", sans-serif' },
  grid: {
    left: 67, right: 21, top: 17, bottom: 108,
    show: true, borderColor: '#d9d9d9', borderWidth: 1.5, backgroundColor: 'transparent'
  },
  xAxis: {
    type: 'value',
    min: 0,
    max: quarterLabels.length - 1,
    interval: 1,
    axisLine: { show: false },
    axisTick: { show: false },
    axisLabel: {
      rotate: 90,
      margin: 14,
      fontSize: 21,
      color: '#595959',
      fontFamily: 'Lato, "Open Sans", sans-serif',
      formatter: v => quarterLabels[Math.round(v)] || ''
    },
    splitLine: {
      show: true,
      lineStyle: { color: quarterLineColors, width: 2, type: [6, 4] }
    }
  },
  yAxis: {
    type: 'value',
    min: yTicks.min,
    max: yTicks.max,
    interval: yTicks.step,
    axisLine: { show: false },
    axisTick: { show: false },
    axisLabel: {
      margin: 10,
      fontSize: 21,
      color: '#595959',
      fontFamily: 'Lato, "Open Sans", sans-serif'
    },
    splitLine: { show: true, lineStyle: { color: '#d9d9d9', width: 1.5 } }
  },
  series: [
    lineSeries('Blue', blueLine, '#3b64a0'),
    lineSeries('Red', redLine, '#ff0000'),
    lineSeries('Green', greenLine, '#008000')
  ]
});
</script>
</body>
</html>
